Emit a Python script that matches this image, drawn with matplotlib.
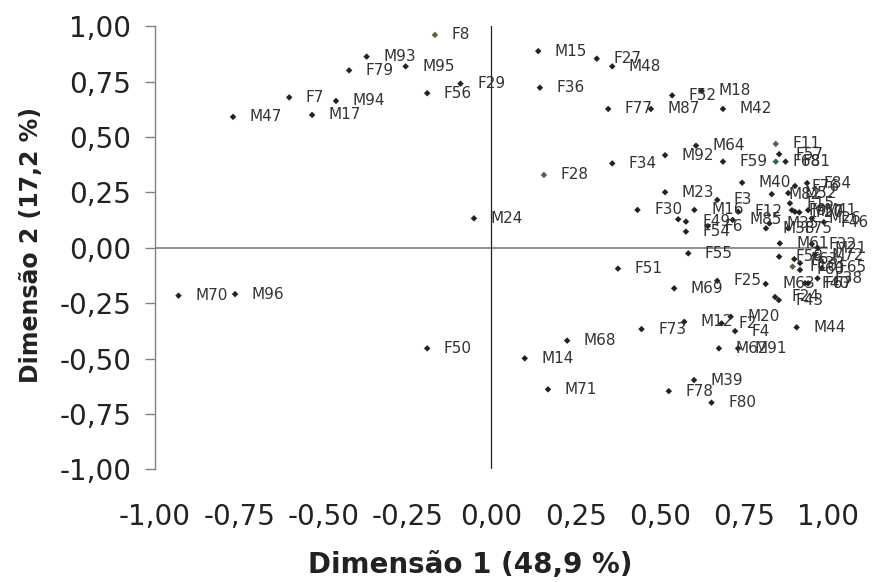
import matplotlib
matplotlib.use('Agg')
import matplotlib.pyplot as plt
import numpy as np

# point labels and coordinates (Dimensao 1, Dimensao 2)
labels = ['F8', 'M93', 'F79', 'M95', 'F29', 'F56', 'F7', 'M94', 'M47', 'M17',
          'M15', 'F27', 'M48', 'F36', 'F52', 'M18', 'F77', 'M87', 'M42',
          'F11', 'F57', 'F68', 'F81', 'F59', 'M64', 'M92', 'F34', 'F28', 'M24',
          'M40', 'M23', 'F3', 'M82', 'F76', 'F84', 'M52', 'F15', 'F9', 'M57',
          'F20', 'M41', 'M26', 'F46', 'M85', 'F12', 'M16', 'F30', 'F49', 'F6',
          'F54', '', 'M38', 'M35', 'F75',
          'M61', 'F32', 'M21', 'M72', 'F58', 'F63', 'F33', 'F65', 'F10', 'F60',
          'F40', 'F67', 'F38', 'F55', 'F51', 'F25', 'M69', 'M63', 'F24', 'F43',
          'M70', 'M96', 'F73', 'M12', 'F2', 'M20', 'F4', 'M62', 'M91', 'M44',
          'F50', 'M14', 'M68', 'M71', 'M39', 'F78', 'F80']
dim1 = [-0.168, -0.371, -0.423, -0.255, -0.092, -0.191, -0.601, -0.462, -0.768, -0.533,
        0.139, 0.313, 0.359, 0.144, 0.537, 0.625, 0.347, 0.474, 0.688,
        0.845, 0.855, 0.845, 0.874, 0.688, 0.608, 0.516, 0.359, 0.156, -0.052,
        0.745, 0.516, 0.671, 0.833, 0.902, 0.938, 0.882, 0.887, 0.893, 0.902,
        0.915, 0.941, 0.952, 0.988, 0.717, 0.733, 0.603, 0.434, 0.578, 0.643,
        0.578, 0.555, 0.816, 0.826, 0.882,
        0.857, 0.952, 0.970, 0.961, 0.855, 0.900, 0.917, 0.982, 0.895, 0.917,
        0.932, 0.941, 0.969, 0.585, 0.376, 0.671, 0.543, 0.815, 0.843, 0.854,
        -0.930, -0.762, 0.446, 0.573, 0.684, 0.711, 0.724, 0.676, 0.733, 0.907,
        -0.191, 0.099, 0.225, 0.168, 0.602, 0.527, 0.654]
dim2 = [0.961, 0.863, 0.801, 0.819, 0.741, 0.698, 0.679, 0.663, 0.591, 0.600,
        0.888, 0.854, 0.819, 0.723, 0.688, 0.708, 0.627, 0.627, 0.627,
        0.469, 0.423, 0.389, 0.389, 0.389, 0.461, 0.418, 0.381, 0.329, 0.133,
        0.294, 0.251, 0.216, 0.242, 0.279, 0.292, 0.247, 0.201, 0.170, 0.163,
        0.160, 0.170, 0.133, 0.116, 0.126, 0.163, 0.171, 0.171, 0.118, 0.098,
        0.073, 0.129, 0.088, 0.110, 0.088,
        0.020, 0.017, -0.001, -0.033, -0.040, -0.051, -0.069, -0.091, -0.085, -0.100,
        -0.160, -0.160, -0.138, -0.025, -0.094, -0.149, -0.183, -0.163, -0.222, -0.236,
        -0.216, -0.209, -0.367, -0.334, -0.341, -0.311, -0.376, -0.454, -0.454, -0.359,
        -0.454, -0.499, -0.419, -0.639, -0.597, -0.647, -0.699]

ticks = [-1.0, -0.75, -0.5, -0.25, 0.0, 0.25, 0.5, 0.75, 1.0]
tick_labels = ['%.2f' % t for t in ticks]
tick_labels = [t.replace('.', ',') for t in tick_labels]

# a few markers are drawn in another colour
marker_colors = {'F8': '#6b5a3a', 'F11': '#6b5a3a', 'F28': '#6b5a3a',
                 'F10': '#6b5a3a', 'F68': '#2f6b4f'}

fig = plt.figure(figsize=(8.75, 5.82), dpi=100)
ax = fig.add_axes([0.1771, 0.1936, 0.7691, 0.7612])

colors = [marker_colors.get(n, '#222222') for n in labels]
ax.scatter(dim1, dim2, marker='D', s=11, c=colors, zorder=3, linewidths=0)

for name, x, y in zip(labels, dim1, dim2):
    if name:
        ax.annotate(name, (x, y), xytext=(12, 0), textcoords='offset points',
                    ha='left', va='center', fontsize=11, color='#333333')

ax.axhline(0, color='#888888', lw=1.3, zorder=1)
ax.axvline(0, color='#222222', lw=0.9, zorder=1)

ax.set_xlim(-1, 1)
ax.set_ylim(-1, 1)
ax.set_xticks(ticks)
ax.set_xticklabels(tick_labels)
ax.set_yticks(ticks)
ax.set_yticklabels(tick_labels)

for s in ['top', 'right', 'bottom']:
    ax.spines[s].set_visible(False)
ax.spines['left'].set_color('#808080')
ax.spines['left'].set_linewidth(1.0)

ax.tick_params(axis='x', length=0, pad=24, labelsize=20, colors='#222222')
ax.tick_params(axis='y', length=7, width=1.0, pad=10, labelsize=20,
               colors='#808080', labelcolor='#222222')

fig.text(470 / 875, 1 - 565 / 582, 'Dimensão 1 (48,9 %)', ha='center', va='center',
         fontsize=20, fontweight='bold', color='#222222')
fig.text(31 / 875, 1 - 245 / 582, 'Dimensão 2 (17,2 %)', ha='center', va='center',
         rotation=90, fontsize=17, fontweight='bold', color='#222222')

fig.savefig('out.png', dpi=100)
